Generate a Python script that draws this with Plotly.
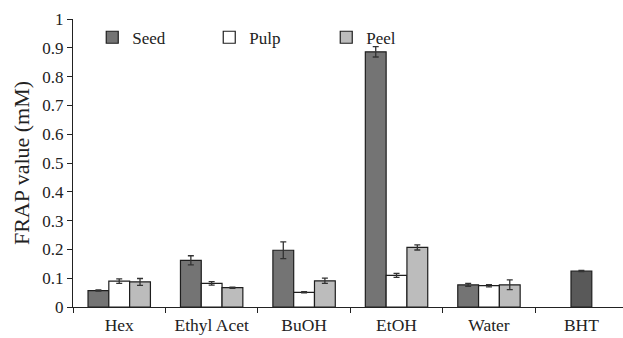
import plotly.graph_objects as go

categories = ["Hex", "Ethyl Acet", "BuOH", "EtOH", "Water", "BHT"]
groups = ["Hex", "Ethyl Acet", "BuOH", "EtOH", "Water"]
seed = [0.057, 0.162, 0.197, 0.886, 0.077]
seed_err = [0.002, 0.016, 0.029, 0.018, 0.005]
pulp = [0.090, 0.082, 0.051, 0.110, 0.074]
pulp_err = [0.008, 0.006, 0.002, 0.007, 0.004]
peel = [0.087, 0.067, 0.091, 0.207, 0.077]
peel_err = [0.012, 0.002, 0.009, 0.009, 0.017]
bht_cat = ["BHT"]
bht = [0.125]
bht_err = [0.002]
yticks = [0, 0.1, 0.2, 0.3, 0.4, 0.5, 0.6, 0.7, 0.8, 0.9, 1]
ytick_labels = ["0", "0.1", "0.2", "0.3", "0.4", "0.5", "0.6", "0.7", "0.8", "0.9", "1"]

W = 0.225
line = dict(color="#1e1e1e", width=1.2)
err_style = dict(type="data", color="#333333", thickness=1.3, width=3)

fig = go.Figure()
fig.add_trace(go.Bar(name="Seed", x=groups, y=seed, width=W, offset=-1.5 * W,
                     marker=dict(color="#747474", line=line),
                     error_y=dict(array=seed_err, **err_style)))
fig.add_trace(go.Bar(name="Pulp", x=groups, y=pulp, width=W, offset=-0.5 * W,
                     marker=dict(color="#ffffff", line=line),
                     error_y=dict(array=pulp_err, **err_style)))
fig.add_trace(go.Bar(name="Peel", x=groups, y=peel, width=W, offset=0.5 * W,
                     marker=dict(color="#bcbcbc", line=line),
                     error_y=dict(array=peel_err, **err_style)))
fig.add_trace(go.Bar(name="BHT", x=bht_cat, y=bht, width=W, offset=-0.5 * W,
                     marker=dict(color="#595959", line=line), showlegend=False,
                     error_y=dict(array=bht_err, **err_style)))

serif = "Liberation Serif"
fig.update_layout(
    width=623, height=338,
    margin=dict(l=73, r=0, t=19, b=31),
    paper_bgcolor="white", plot_bgcolor="white",
    barmode="overlay",
    font=dict(family=serif, size=17, color="#222222"),
    legend=dict(orientation="h", x=0.035, y=0.935, xanchor="left", yanchor="middle",
                font=dict(family=serif, size=17, color="#222222"),
                entrywidth=72, entrywidthmode="pixels", itemwidth=30,
                bgcolor="rgba(0,0,0,0)", tracegroupgap=0),
    xaxis=dict(type="category", categoryorder="array", categoryarray=categories,
               range=[-0.5, 5.45], showline=True, linecolor="#222222", linewidth=1.3,
               ticks="outside", tickson="boundaries", ticklen=5, tickcolor="#222222",
               showgrid=False, zeroline=False, automargin=False, ticklabelstandoff=2,
               tickfont=dict(family=serif, size=17.5, color="#222222")),
    yaxis=dict(range=[0, 1], tickvals=yticks, ticktext=ytick_labels,
               showline=True, linecolor="#222222", linewidth=1.3,
               ticks="outside", ticklen=5, tickcolor="#222222",
               showgrid=False, zeroline=False, automargin=False,
               tickfont=dict(family=serif, size=17, color="#222222"),
               title=dict(text="FRAP value (mM)", font=dict(family=serif, size=22, color="#222222"),
                          standoff=6)),
)

fig.write_html("out.html", post_script="document.body.style.margin='0';",
               config={"displayModeBar": False})
